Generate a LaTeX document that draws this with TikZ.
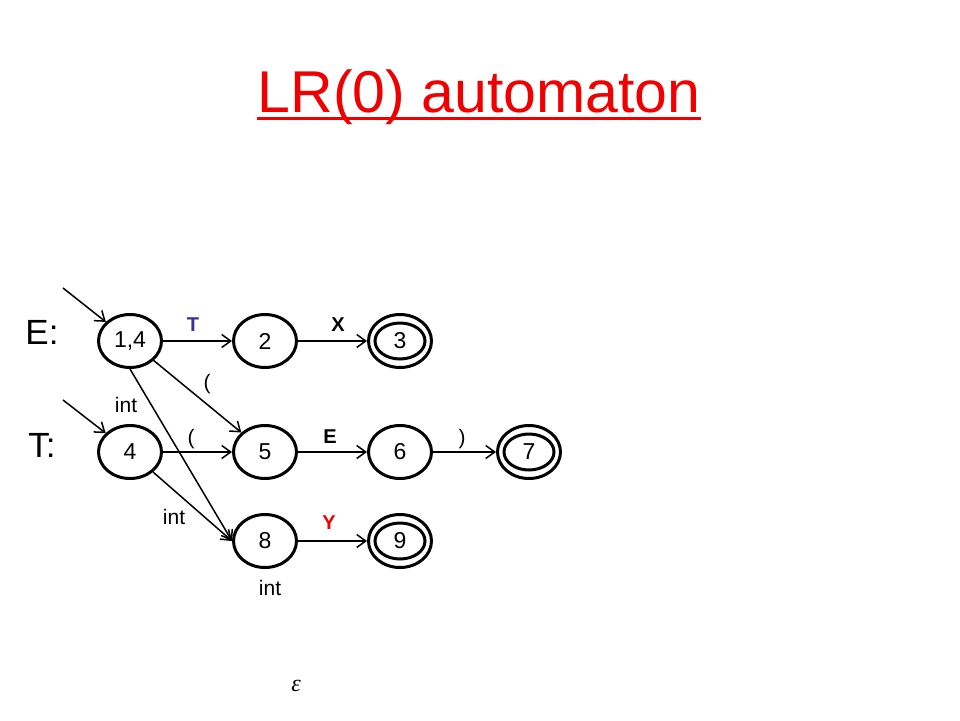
\documentclass[tikz,border=0pt]{standalone}
\usepackage{fontspec}
\setmainfont{Liberation Sans}
\newfontfamily\epsfont{Liberation Serif}
\usetikzlibrary{shapes.geometric,arrows.meta}
\definecolor{tblue}{RGB}{51,51,153}
\definecolor{tred}{RGB}{240,0,0}
\begin{document}
\begin{tikzpicture}[x=1pt,y=-1pt,
  state/.style={ellipse,draw,line width=3pt,minimum width=63pt,minimum height=53pt,inner sep=0pt,font=\fontsize{23}{26}\selectfont},
  edge/.style={line width=1.5pt,-{Straight Barb[length=9pt,width=13pt,line width=1.5pt]}},
  lbl/.style={font=\fontsize{21}{24}\selectfont,inner sep=0pt},
  blbl/.style={font=\fontsize{20}{24}\selectfont\bfseries,inner sep=0pt},
  side/.style={font=\fontsize{35}{40}\selectfont,inner sep=0pt},
  inner/.style={line width=3pt}]
\useasboundingbox (0,0) rectangle (960,720);
\fill[white] (0,0) rectangle (960,720);
% title
\node[anchor=base,text=tred,font=\fontsize{59}{70}\selectfont,inner sep=0pt] (title) at (479,112) {LR(0) automaton};
\draw[tred,line width=3.5pt] ([yshift=-6.5pt]title.base west) -- ([yshift=-6.5pt]title.base east);
% side labels
\node[side] (Elab) at (42,332) {E:};
\node[side] (Tlab) at (42,445) {T:};
% states
\node[state] (n14) at (130,341) {1,4};
\node[state] (n2) at (265,341) {2};
\node[state] (n3) at (400,341) {3};
\node[state] (n4) at (130,452) {4};
\node[state] (n5) at (265,452) {5};
\node[state] (n6) at (400,452) {6};
\node[state] (n7) at (529,452) {7};
\node[state] (n8) at (265,541) {8};
\node[state] (n9) at (400,541) {9};
% accepting inner ellipses
\draw[inner] (n3.center) ellipse (25 and 18);
\draw[inner] (n7.center) ellipse (25 and 18);
\draw[inner] (n9.center) ellipse (25 and 18);
% entry arrows
\coordinate (e1) at (63,288);
\coordinate (e2) at (63,400);
\draw[edge] (e1) -- (n14);
\draw[edge] (e2) -- (n4);
% transitions
\draw[edge] (n14) -- (n2);
\draw[edge] (n2) -- (n3);
\draw[edge] (n14) -- (n5);
\draw[edge] (n14.south) -- (n8.west);
\draw[edge] (n4) -- (n5);
\draw[edge] (n4.-41) -- (n8.west);
\draw[edge] (n5) -- (n6);
\draw[edge] (n6) -- (n7);
\draw[edge] (n8) -- (n9);
% labels
\node[blbl,text=tblue] (lT) at (193,325) {T};
\node[blbl] (lX) at (338,325) {X};
\node[lbl] (lp1) at (207,384) {(};
\node[lbl] (li1) at (126,405) {int};
\node[lbl] (lp2) at (191,439) {(};
\node[blbl] (lE) at (330,437) {E};
\node[lbl] (lp3) at (462,439) {)};
\node[lbl] (li2) at (174,517) {int};
\node[blbl,text=tred] (lY) at (329,523) {Y};
\node[lbl] (li3) at (270,588) {int};
\node[font=\fontsize{24}{28}\epsfont\itshape,inner sep=0pt] (eps) at (296,686) {ε};
\end{tikzpicture}
\end{document}
